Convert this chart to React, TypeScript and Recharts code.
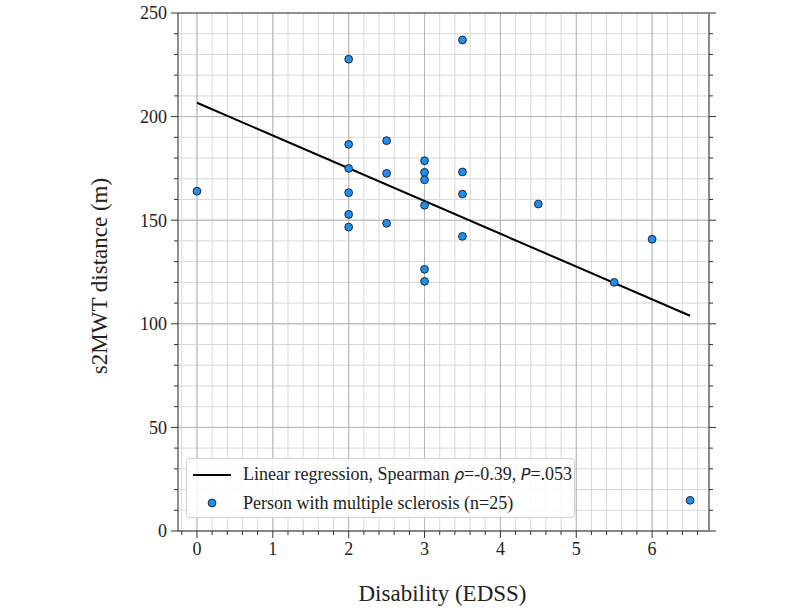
import React from "react";
import {
  ScatterChart,
  Scatter,
  XAxis,
  YAxis,
  CartesianGrid,
  ReferenceLine,
  Legend,
  Label,
} from "recharts";

// EDSS score and s2MWT distance for each person
const edss = [0, 2, 2, 2, 2, 2, 2, 2.5, 2.5, 2.5, 3, 3, 3, 3, 3, 3, 3.5, 3.5, 3.5, 3.5, 4.5, 5.5, 6, 6.5];
const distance = [164, 227.7, 186.6, 175, 163.3, 152.8, 146.7, 188.4, 172.6, 148.5, 178.7, 173.1, 169.5, 157.2, 126.3, 120.5, 237, 173.3, 162.6, 142.2, 157.8, 120, 140.8, 14.8];

// fitted regression end points
const fitX = [0, 6.5];
const fitY = [206.7, 103.9];

const xMajor = [0, 1, 2, 3, 4, 5, 6];
const yMajor = [0, 50, 100, 150, 200, 250];
const xDomain = [-0.25, 6.75];
const yDomain = [0, 250];

const xMinor: number[] = [];
for (let k = -1; k <= 33; k++) xMinor.push(Math.round(k * 2) / 10);
const yMinor: number[] = [];
for (let k = 0; k <= 25; k++) yMinor.push(k * 10);

const points = edss.map((x, i) => ({ x, y: distance[i] }));
const fit = fitX.map((x, i) => ({ x, y: fitY[i] }));

const SERIF = "'Liberation Serif', 'Times New Roman', serif";
const TICK_COLOR = "#333";

const isMajorX = (v: number) => Math.abs(v - Math.round(v)) < 1e-6;
const isMajorY = (v: number) => v % 50 === 0;

function BottomTick(props: any) {
  const { x, y, payload } = props;
  const major = isMajorX(payload.value);
  return (
    <g>
      <line x1={x} x2={x} y1={y} y2={y + (major ? 7 : 4)} stroke={TICK_COLOR} strokeWidth={1} />
      {major && (
        <text x={x} y={y + 24} textAnchor="middle" style={{ fontFamily: SERIF }} fontSize={18} fill="#222">
          {payload.value}
        </text>
      )}
    </g>
  );
}

function TopTick(props: any) {
  const { x, y, payload } = props;
  const major = isMajorX(payload.value);
  return <line x1={x} x2={x} y1={y} y2={y - (major ? 7 : 4)} stroke={TICK_COLOR} strokeWidth={1} />;
}

function LeftTick(props: any) {
  const { x, y, payload } = props;
  const major = isMajorY(payload.value);
  return (
    <g>
      <line x1={x} x2={x - (major ? 7 : 4)} y1={y} y2={y} stroke={TICK_COLOR} strokeWidth={1} />
      {major && (
        <text x={x - 11} y={y} dy="0.35em" textAnchor="end" style={{ fontFamily: SERIF }} fontSize={18} fill="#222">
          {payload.value}
        </text>
      )}
    </g>
  );
}

function RightTick(props: any) {
  const { x, y, payload } = props;
  const major = isMajorY(payload.value);
  return <line x1={x} x2={x + (major ? 7 : 4)} y1={y} y2={y} stroke={TICK_COLOR} strokeWidth={1} />;
}

function Dot(props: any) {
  const { cx, cy } = props;
  if (cx == null || cy == null) return <g />;
  return <circle cx={cx} cy={cy} r={3.9} fill="#1e8ef0" stroke="#1a1a1a" strokeWidth={0.9} />;
}

function LegendBox() {
  const it: React.CSSProperties = { fontFamily: "'DejaVu Sans', sans-serif", fontStyle: "italic", fontSize: 16 };
  return (
    <div
      style={{
        width: 389,
        height: 60,
        background: "rgba(255,255,255,0.85)",
        border: "1px solid #d0d0d0",
        borderRadius: 4,
        boxSizing: "border-box",
        fontFamily: SERIF,
        fontSize: 18,
        color: "#222",
        position: "relative",
      }}
    >
      <svg width={40} height={10} style={{ position: "absolute", left: 6, top: 11 }}>
        <line x1={0} x2={38} y1={5} y2={5} stroke="#000" strokeWidth={2} />
      </svg>
      <div style={{ position: "absolute", left: 56, top: 5, whiteSpace: "nowrap" }}>
        Linear regression, Spearman <span style={it}>ρ</span>=-0.39, <span style={it}>P</span>=.053
      </div>
      <svg width={12} height={12} style={{ position: "absolute", left: 19, top: 38 }}>
        <circle cx={6} cy={6} r={3.9} fill="#1e8ef0" stroke="#1a1a1a" strokeWidth={0.9} />
      </svg>
      <div style={{ position: "absolute", left: 56, top: 34, whiteSpace: "nowrap" }}>
        Person with multiple sclerosis (n=25)
      </div>
    </div>
  );
}

export default function App() {
  return (
    <div style={{ position: "absolute", left: 0, top: 0, width: 800, height: 615, background: "#fff" }}>
      <ScatterChart width={800} height={615} margin={{ top: 3, right: 81, bottom: 54, left: 118 }}>
        <CartesianGrid stroke="#d8d8d8" strokeWidth={1} />
        {xMajor.map((v) => (
          <ReferenceLine key={"vx" + v} x={v} stroke="#b5b5b5" strokeWidth={1} />
        ))}
        {yMajor.slice(1, -1).map((v) => (
          <ReferenceLine key={"hy" + v} y={v} stroke="#b5b5b5" strokeWidth={1} />
        ))}
        <XAxis
          type="number"
          dataKey="x"
          domain={xDomain}
          ticks={xMinor.filter((v) => v >= xDomain[0] && v <= xDomain[1])}
          interval={0}
          allowDataOverflow
          height={30}
          tickSize={0}
          tickMargin={0}
          tick={<BottomTick />}
          axisLine={{ stroke: "#222", strokeWidth: 1 }}
        >
          <Label
            content={({ viewBox }: any) => (
              <text
                x={viewBox.x + viewBox.width / 2 - 1}
                y={viewBox.y + 70}
                textAnchor="middle"
                style={{ fontFamily: SERIF }}
                fontSize={23}
                fill="#222"
              >
                Disability (EDSS)
              </text>
            )}
          />
        </XAxis>
        <XAxis
          xAxisId="top"
          orientation="top"
          type="number"
          domain={xDomain}
          ticks={xMinor.filter((v) => v >= xDomain[0] && v <= xDomain[1])}
          interval={0}
          allowDataOverflow
          height={10}
          tickSize={0}
          tickMargin={0}
          tick={<TopTick />}
          axisLine={{ stroke: "#333", strokeWidth: 1 }}
        />
        <YAxis
          type="number"
          dataKey="y"
          domain={yDomain}
          ticks={yMinor}
          interval={0}
          allowDataOverflow
          width={60}
          tickSize={0}
          tickMargin={0}
          tick={<LeftTick />}
          axisLine={{ stroke: "#333", strokeWidth: 1 }}
        >
          <Label
            content={({ viewBox }: any) => {
              const cx = viewBox.x - 19;
              const cy = viewBox.y + viewBox.height / 2 + 4;
              return (
                <text
                  x={cx}
                  y={cy}
                  transform={`rotate(-90, ${cx}, ${cy})`}
                  textAnchor="middle"
                  dominantBaseline="central"
                  style={{ fontFamily: SERIF }}
                  fontSize={23}
                  fill="#222"
                >
                  s2MWT distance (m)
                </text>
              );
            }}
          />
        </YAxis>
        <YAxis
          yAxisId="right"
          orientation="right"
          type="number"
          domain={yDomain}
          ticks={yMinor}
          interval={0}
          allowDataOverflow
          width={10}
          tickSize={0}
          tickMargin={0}
          tick={<RightTick />}
          axisLine={{ stroke: "#8a8a8a", strokeWidth: 2 }}
        />
        <Scatter
          name="fit"
          data={fit}
          line={{ stroke: "#000", strokeWidth: 2 }}
          shape={() => <g />}
          legendType="line"
          isAnimationActive={false}
        />
        <Scatter name="points" data={points} shape={<Dot />} isAnimationActive={false} />
        <Legend
          layout="vertical"
          align="center"
          verticalAlign="middle"
          content={<LegendBox />}
          wrapperStyle={{ left: 186, top: 458, width: 389, height: 60 }}
        />
      </ScatterChart>
    </div>
  );
}
